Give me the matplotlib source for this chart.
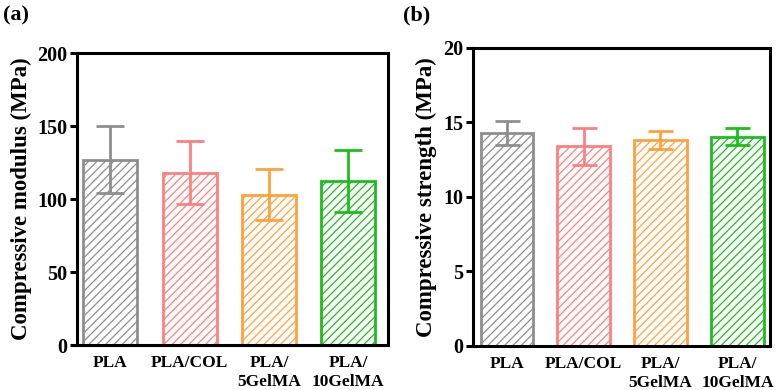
import matplotlib
matplotlib.use("Agg")
import matplotlib.pyplot as plt

plt.rcParams['font.family'] = ['Liberation Serif', 'DejaVu Serif']
plt.rcParams['font.weight'] = 'bold'
plt.rcParams['hatch.linewidth'] = 0.9

groups = ['PLA', 'PLA/COL', 'PLA/\n5GelMA', 'PLA/\n10GelMA']
colors = ['#8e8e8e', '#ff8080', '#ffa23e', '#1cbe1c']

modulus = [127, 118, 103, 112.5]
modulus_err = [23, 21.5, 17.5, 21]

strength = [14.3, 13.4, 13.85, 14.05]
strength_err = [0.8, 1.25, 0.6, 0.55]

fig = plt.figure(figsize=(7.79, 3.9), dpi=100)
ax1 = fig.add_axes([0.099, 0.115, 0.399, 0.749])
ax2 = fig.add_axes([0.607, 0.113, 0.381, 0.764])


def draw(ax, vals, errs, ymax, step, ylabel, xlim, cap):
    x = range(len(vals))
    for i in x:
        ax.bar(i, vals[i], width=0.68, facecolor='white', edgecolor=colors[i],
               linewidth=2, hatch='////', zorder=2)
        ax.errorbar(i, vals[i], yerr=errs[i], color=colors[i], capsize=cap,
                    elinewidth=2, capthick=2, zorder=3)
    ax.set_xlim(*xlim)
    ax.set_ylim(0, ymax)
    ax.set_yticks(range(0, ymax + 1, step))
    ax.set_xticks(list(x))
    ax.set_xticklabels(groups, fontsize=12.5, fontweight='bold', linespacing=1.25)
    ax.set_ylabel(ylabel, fontsize=16.5, fontweight='bold', labelpad=4)
    for s in ax.spines.values():
        s.set_linewidth(2.2)
    ax.tick_params(axis='y', labelsize=14.5, width=2.2, length=5, pad=2)
    ax.tick_params(axis='x', length=0, pad=7)
    for t in ax.get_yticklabels():
        t.set_fontweight('bold')


draw(ax1, modulus, modulus_err, 200, 50, 'Compressive modulus (MPa)', (-0.42, 3.5), 10)
draw(ax2, strength, strength_err, 20, 5, 'Compressive strength (MPa)', (-0.44, 3.42), 9)

fig.text(0.004, 0.985, '(a)', fontsize=16, fontweight='bold', va='top')
fig.text(0.517, 0.985, '(b)', fontsize=16, fontweight='bold', va='top')

fig.savefig('out.png', dpi=100)
